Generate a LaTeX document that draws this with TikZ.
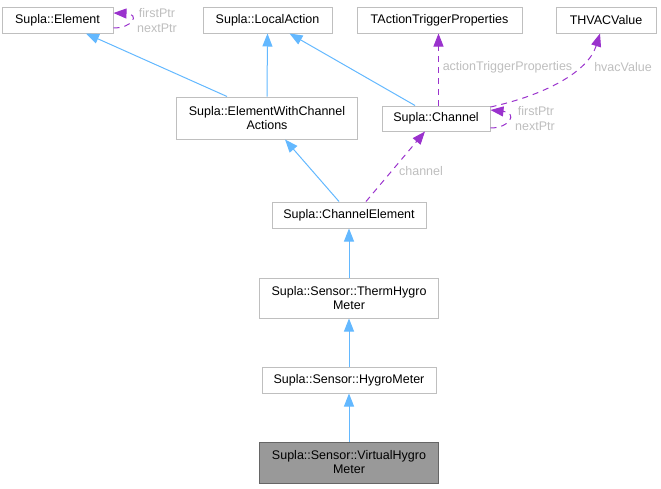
\documentclass[tikz,border=0pt]{standalone}
\usepackage{fontspec}
\setmainfont{Liberation Sans}
\usetikzlibrary{arrows.meta}
\definecolor{boxline}{HTML}{BFBFBF}
\definecolor{curfill}{HTML}{999999}
\definecolor{curline}{HTML}{666666}
\definecolor{inhblue}{HTML}{63B8FF}
\definecolor{usepurple}{HTML}{9A32CD}
\definecolor{lblgray}{HTML}{BEBEBE}
\begin{document}
\begin{tikzpicture}[x=1pt,y=-1pt,
  every node/.style={font=\fontsize{12.5}{14}\selectfont, inner sep=0pt},
  box/.style={draw=boxline, line width=1pt, fill=white, align=center, minimum height=26pt},
  curbox/.style={box, draw=curline, fill=curfill},
  inh/.style={draw=inhblue, line width=1pt, -{Triangle[length=13pt,width=10pt]}},
  usage/.style={draw=usepurple, line width=1pt, dash pattern=on 6pt off 5pt, -{Triangle[length=13pt,width=10pt]}},
  lbl/.style={text=lblgray}]
\useasboundingbox (0,0) rectangle (661,488);

\node[box, minimum width=111pt] (elem) at (57.5,20) {Supla::Element};
\node[box, minimum width=129pt] (local) at (267.5,20) {Supla::LocalAction};
\node[box, minimum width=165pt] (tatp) at (439.5,20) {TActionTriggerProperties};
\node[box, minimum width=100pt] (hvac) at (606,20) {THVACValue};
\node[box, minimum width=181pt, minimum height=42pt] (ewca) at (267,118) {Supla::ElementWithChannel\\Actions};
\node[box, minimum width=108pt, minimum height=25pt] (chan) at (436,118.5) {Supla::Channel};
\node[box, minimum width=154pt] (ce) at (349,215) {Supla::ChannelElement};
\node[box, minimum width=179pt, minimum height=40pt] (th) at (349,298) {Supla::Sensor::ThermHygro\\Meter};
\node[box, minimum width=174pt] (hy) at (349,380) {Supla::Sensor::HygroMeter};
\node[curbox, minimum width=179pt, minimum height=41pt] (vh) at (349,462.5) {Supla::Sensor::VirtualHygro\\Meter};

% inheritance
\draw[inh] ([xshift=-40pt]ewca.north) -- ([xshift=28.5pt]elem.south);
\draw[inh] (ewca.north) -- (local.south);
\draw[inh] ([xshift=-21pt]chan.north) -- ([xshift=22pt]local.south);
\draw[inh] ([xshift=-10pt]ce.north) -- ([xshift=18pt]ewca.south);
\draw[inh] (th.north) -- (ce.south);
\draw[inh] (hy.north) -- (th.south);
\draw[inh] (vh.north) -- (hy.south);

% usage
\draw[usage] ([xshift=17pt]ce.north) -- ([xshift=-11pt]chan.south);
\node[lbl] (chl) at (421,171) {channel};
\draw[usage] ([xshift=2.5pt]chan.north) -- ([xshift=-1pt]tatp.south);
\node[lbl] (atl) at (507.5,67) {actionTriggerProperties};
\draw[usage] ([yshift=11.5pt]chan.east) .. controls (545,95) and (588,72) .. ([xshift=-6pt]hvac.south);
\node[lbl] (hvl) at (623,67) {hvacValue};

% self loops
\draw[usage] ([yshift=-8pt]elem.east) .. controls (133,28) and (140,14) .. ([yshift=7pt]elem.east);
\node[lbl] (ef) at (157,13) {firstPtr};
\node[lbl] (en) at (157,28) {nextPtr};
\draw[usage] ([yshift=-9.5pt]chan.east) .. controls (510,128) and (518,113) .. ([yshift=8.5pt]chan.east);
\node[lbl] (cf) at (536,111) {firstPtr};
\node[lbl] (cn) at (535,126) {nextPtr};
\end{tikzpicture}
\end{document}
